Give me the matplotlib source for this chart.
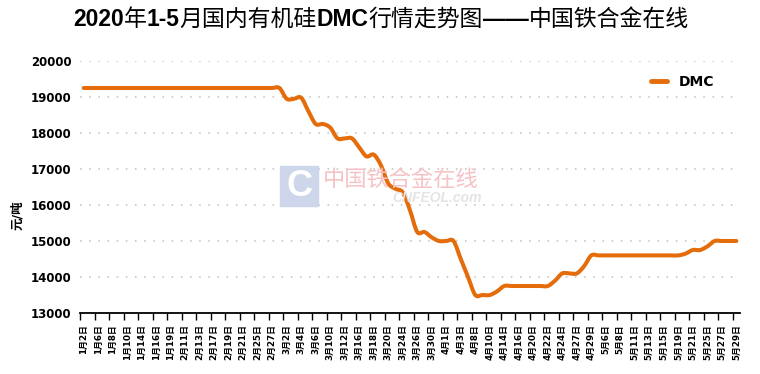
import matplotlib
matplotlib.use("Agg")
import matplotlib.pyplot as plt
from matplotlib.path import Path
from matplotlib.patches import PathPatch, Rectangle
from matplotlib.lines import Line2D
from matplotlib.offsetbox import TextArea, HPacker, AnchoredOffsetbox

# ---------------------------------------------------------------------------
# Data (yuan / tonne), one value per trading day
# ---------------------------------------------------------------------------
dates = [
    "1月2日", "1月3日", "1月6日", "1月7日", "1月8日", "1月9日", "1月10日", "1月13日",
    "1月14日", "1月15日", "1月16日", "1月17日", "1月19日", "2月10日", "2月11日", "2月12日",
    "2月13日", "2月14日", "2月17日", "2月18日", "2月19日", "2月20日", "2月21日", "2月24日",
    "2月25日", "2月26日", "2月27日", "2月28日", "3月2日", "3月3日", "3月4日", "3月5日",
    "3月6日", "3月9日", "3月10日", "3月11日", "3月12日", "3月13日", "3月16日", "3月17日",
    "3月18日", "3月19日", "3月20日", "3月23日", "3月24日", "3月25日", "3月26日", "3月27日",
    "3月30日", "3月31日", "4月1日", "4月2日", "4月3日", "4月7日", "4月8日", "4月9日",
    "4月10日", "4月13日", "4月14日", "4月15日", "4月16日", "4月17日", "4月20日", "4月21日",
    "4月22日", "4月23日", "4月24日", "4月26日", "4月27日", "4月28日", "4月29日", "4月30日",
    "5月6日", "5月7日", "5月8日", "5月9日", "5月11日", "5月12日", "5月13日", "5月14日",
    "5月15日", "5月18日", "5月19日", "5月20日", "5月21日", "5月22日", "5月25日", "5月26日",
    "5月27日", "5月28日", "5月29日",
]

dmc = [
    19250, 19250, 19250, 19250, 19250, 19250, 19250, 19250, 19250, 19250,
    19250, 19250, 19250, 19250, 19250, 19250, 19250, 19250, 19250, 19250,
    19250, 19250, 19250, 19250, 19250, 19250, 19250, 19250,
    18950, 18950, 18980, 18600, 18250, 18250, 18150, 17850, 17850, 17850,
    17600, 17350, 17400, 17100, 16600, 16450, 16350, 15850, 15250, 15250,
    15100, 15000, 15000, 15000, 14500, 14000, 13500, 13500, 13500, 13600,
    13750, 13750, 13750, 13750, 13750, 13750, 13750, 13900, 14100, 14100,
    14100, 14300, 14600, 14600, 14600, 14600, 14600, 14600, 14600, 14600,
    14600, 14600, 14600, 14600, 14600, 14650, 14750, 14750, 14850, 15000,
    15000, 15000, 15000,
]

title_parts = [
    ("2020", "bold"), ("年", "normal"), ("1-5", "bold"), ("月国内有机硅", "normal"),
    ("DMC", "bold"), ("行情走势图", "normal"), ("——", "bold"), ("中国铁合金在线", "normal"),
]

y_ticks = [13000, 14000, 15000, 16000, 17000, 18000, 19000, 20000]

ORANGE = "#E46C0A"
FONTS = ["DejaVu Sans", "Noto Sans CJK SC"]


def smooth_path(xs, ys):
    """Excel-like smoothed line: Catmull-Rom segments as cubic Beziers."""
    n = len(xs)
    verts = [(xs[0], ys[0])]
    codes = [Path.MOVETO]
    for i in range(n - 1):
        i0, i2 = max(i - 1, 0), min(i + 2, n - 1)
        c1 = (xs[i] + (xs[i + 1] - xs[i0]) / 6, ys[i] + (ys[i + 1] - ys[i0]) / 6)
        c2 = (xs[i + 1] - (xs[i2] - xs[i]) / 6, ys[i + 1] - (ys[i2] - ys[i]) / 6)
        verts += [c1, c2, (xs[i + 1], ys[i + 1])]
        codes += [Path.CURVE4] * 3
    return Path(verts, codes)


fig = plt.figure(figsize=(7.6, 3.74), dpi=100)
ax = fig.add_axes([80 / 760, 1 - 313 / 374, 660 / 760, 252 / 374])

# watermark
fig.patches.append(Rectangle((280 / 760, 1 - 206 / 374), 38 / 760, 40 / 374,
                             transform=fig.transFigure, color="#CDD6EA", zorder=0))
fig.text(299 / 760, 1 - 186 / 374, "C", fontsize=26, fontweight="bold", color="white",
         ha="center", va="center", family="Liberation Sans")
fig.text(323 / 760, 1 - 180 / 374, "中国铁合金在线", fontsize=16, color="#F5C2C6",
         ha="left", va="center", family="Noto Sans CJK SC")
fig.text(392 / 760, 1 - 198 / 374, "CNFEOL.com", fontsize=10, color="#E4E4E4",
         ha="left", va="center", family="Liberation Sans", style="italic", fontweight="bold")
ax.patch.set_alpha(0)

xs = list(range(len(dates)))
ax.add_patch(PathPatch(smooth_path(xs, dmc), fill=False, edgecolor=ORANGE, lw=2.9,
                       capstyle="round", joinstyle="round", zorder=3))

ax.set_xlim(-0.5, len(dates) - 0.5)
ax.set_ylim(13000, 20000)

ax.set_yticks(y_ticks)
ax.set_yticklabels([str(v) for v in y_ticks], fontsize=8.5, fontweight="bold", family=FONTS)
ax.tick_params(axis="y", length=0, pad=6)
ax.yaxis.grid(True, color="#BFBFBF", linestyle=(0, (1, 5)), lw=1.1)

# tick marks between every second category, labels on every second category
ax.set_xticks([i - 0.5 for i in range(0, len(dates), 2)])
ax.set_xticklabels([])
ax.tick_params(axis="x", which="major", length=5, width=1, color="black")
ax.set_xticks(xs[::2], minor=True)
ax.set_xticklabels(dates[::2], minor=True, rotation=90, fontsize=6.3,
                   fontweight="bold", family=FONTS)
ax.tick_params(axis="x", which="minor", length=0, pad=8)

for side in ["left", "right", "top"]:
    ax.spines[side].set_visible(False)
ax.spines["bottom"].set_linewidth(1.3)
ax.set_axisbelow(True)

fig.text(18 / 760, 1 - 215 / 374, "元/吨", rotation=90, fontsize=9, fontweight="bold",
         ha="center", va="center", family=FONTS)

handle = Line2D([], [], color=ORANGE, lw=3.5, solid_capstyle="round")
fig.legend([handle], ["DMC"], loc="center left", frameon=False,
           bbox_to_anchor=(651 / 760, 1 - 82 / 374), bbox_transform=fig.transFigure,
           borderpad=0, borderaxespad=0, handlelength=1.15, handletextpad=0.85,
           prop={"family": FONTS, "weight": "bold", "size": 10})

# title: bold latin pieces, regular chinese pieces
pieces = []
for txt, weight in title_parts:
    fam = "Liberation Sans" if weight == "bold" else "Noto Sans CJK SC"
    pieces.append(TextArea(txt, textprops=dict(fontsize=16.5, fontweight=weight, family=fam)))
title = AnchoredOffsetbox(loc="upper center", child=HPacker(children=pieces, align="baseline",
                                                            pad=0, sep=0),
                          bbox_to_anchor=(381 / 760, 1 - 8 / 374), bbox_transform=fig.transFigure,
                          frameon=False, pad=0, borderpad=0)
fig.add_artist(title)

fig.savefig("out.png", dpi=100)
